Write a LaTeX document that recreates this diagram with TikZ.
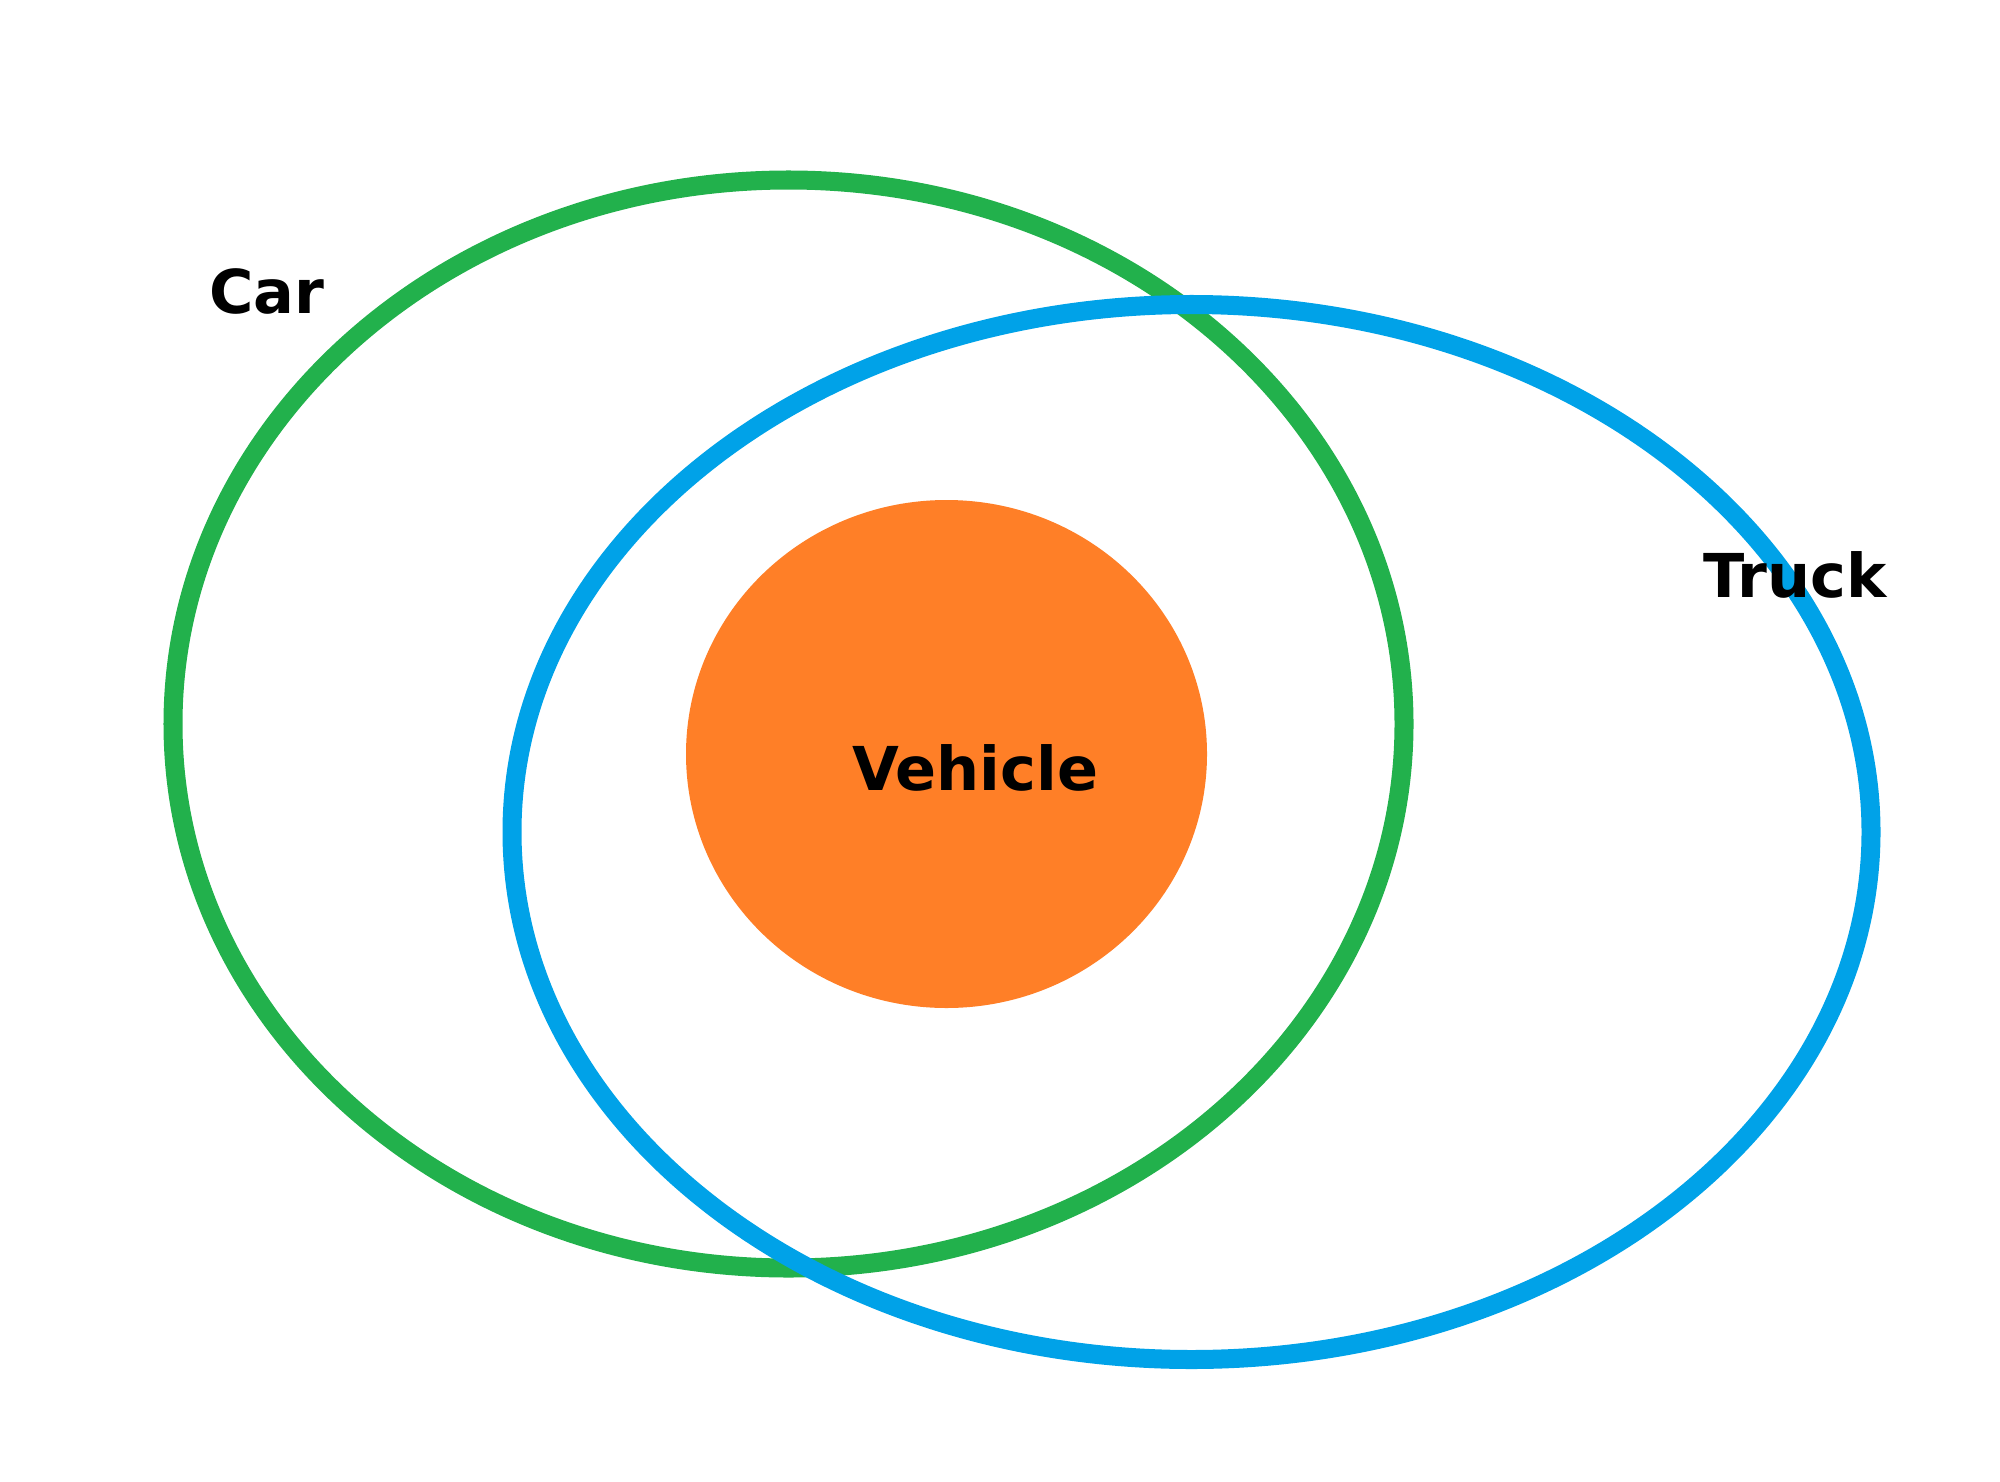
\documentclass[tikz,border=0pt]{standalone}
\usepackage{fontspec}
\setmainfont{DejaVu Sans}
\usepackage{tikz}
\usetikzlibrary{calc}

\definecolor{cargreen}{HTML}{22B14C}
\definecolor{truckblue}{HTML}{00A2E8}
\definecolor{vehorange}{HTML}{FF7F27}

\tikzset{
    setlabel/.style={font=\fontsize{17.2}{20}\selectfont\bfseries, anchor=base, inner sep=0pt}
}

\begin{document}
\begin{tikzpicture}[x=0.01cm, y=-0.01cm]
    \useasboundingbox (0,0) rectangle (2000,1482);
    \coordinate (C) at (788.5,724);
    \coordinate (T) at (1191.5,832);
    \coordinate (V) at (946.5,754);
    \fill[vehorange] (V) ellipse [x radius=260.5, y radius=254];
    \draw[line width=0.19cm, cargreen] (C) ellipse [x radius=615.5, y radius=544];
    \draw[line width=0.19cm, truckblue] (T) ellipse [x radius=679.5, y radius=527.5];
    \node[setlabel] (car) at (267,313) {Car};
    \node[setlabel] (truck) at (1795,597) {Truck};
    \node[setlabel] (vehicle) at (975,790) {Vehicle};
\end{tikzpicture}
\end{document}
